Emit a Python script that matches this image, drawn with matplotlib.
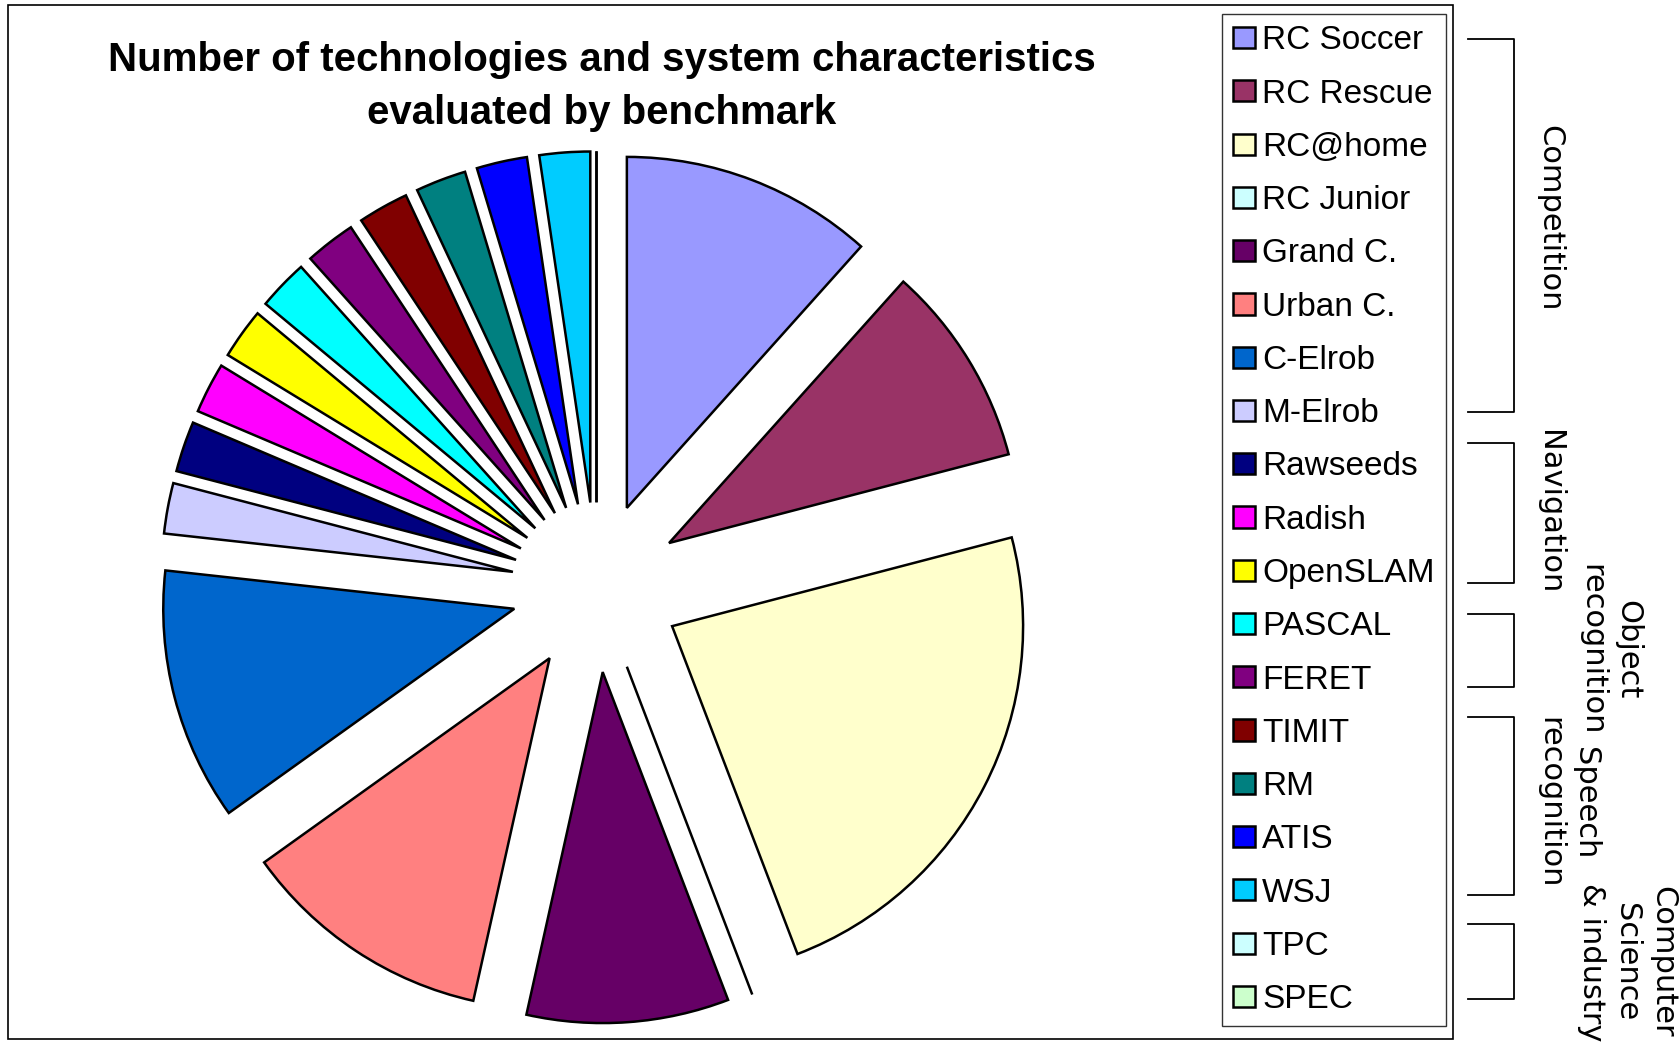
import matplotlib
matplotlib.use("Agg")
import matplotlib.pyplot as plt
from matplotlib.patches import Rectangle

# benchmarks, in legend / slice order (clockwise from 12 o'clock)
labels = ["RC Soccer", "RC Rescue", "RC@home", "RC Junior", "Grand C.",
          "Urban C.", "C-Elrob", "M-Elrob", "Rawseeds", "Radish",
          "OpenSLAM", "PASCAL", "FERET", "TIMIT", "RM", "ATIS", "WSJ",
          "TPC", "SPEC"]
counts = [5, 4, 10, 0, 4, 5, 5, 1, 1, 1, 1, 1, 1, 1, 1, 1, 1, 0, 0]
colors = ["#9999FF", "#993366", "#FFFFCC", "#CCFFFF", "#660066",
          "#FF8080", "#0066CC", "#CCCCFF", "#000080", "#FF00FF",
          "#FFFF00", "#00FFFF", "#800080", "#800000", "#008080",
          "#0000FF", "#00CCFF", "#CCFFFF", "#CCFFCC"]

# bracket groups on the right side of the legend
group_names = ["Competition", "Navigation", "Object\nrecognition",
               "Speech\nrecognition", "Computer\nScience\n& industry"]

W, H = 1681, 1053
fig = plt.figure(figsize=(W / 100, H / 100), dpi=100)
ax = fig.add_axes([0, 0, 1, 1])

def yy(y):  # pixel row (from top) -> axes y
    return H - y

# axes units are pixels here, so explode is a pixel offset too
wedges, _ = ax.pie(counts, colors=colors, startangle=90, counterclock=False,
                   explode=[85] * len(counts), radius=351,
                   center=(596.5, yy(587.3)),
                   wedgeprops=dict(edgecolor="black", linewidth=1.8))
ax.set_xlim(0, W)
ax.set_ylim(0, H)
ax.set_aspect("equal")
ax.axis("off")

# outer chart frame
ax.add_patch(Rectangle((8, yy(1039)), 1453 - 8, 1039 - 5, fill=False,
                       edgecolor="black", linewidth=1.2, clip_on=False))

# title
tfont = dict(family="Liberation Sans", fontsize=29, fontweight="bold",
             ha="center", va="baseline")
ax.text(602, yy(71), "Number of technologies and system characteristics", **tfont)
ax.text(602, yy(124), "evaluated by benchmark", **tfont)

leg = ax.legend(wedges, labels, loc="upper left",
                bbox_to_anchor=(1222, yy(14)), bbox_transform=ax.transData,
                borderaxespad=0, borderpad=0.34, handlelength=0.66,
                handleheight=0.6, handletextpad=0.21, labelspacing=0.668,
                fancybox=False, framealpha=1, edgecolor="#333333",
                prop={"family": "Liberation Sans", "size": 24})
leg.get_frame().set_linewidth(1.0)

# brackets (top, bottom pixel rows) and label centres
spans = [(39, 412), (443, 583), (614, 687), (717, 895), (924, 999)]
label_pos = [(1550, 218), (1550, 512), (1610, 650), (1568, 803), (1627, 962)]
for (yt, yb), name, (tx, ty) in zip(spans, group_names, label_pos):
    ax.plot([1468, 1514, 1514, 1468], [yy(yt), yy(yt), yy(yb), yy(yb)],
            color="black", linewidth=1.3, clip_on=False)
    ax.text(tx, yy(ty), name, rotation=270, ha="center", va="center",
            family="DejaVu Sans", fontsize=22, linespacing=1.3)

fig.savefig("out.png", dpi=100)
